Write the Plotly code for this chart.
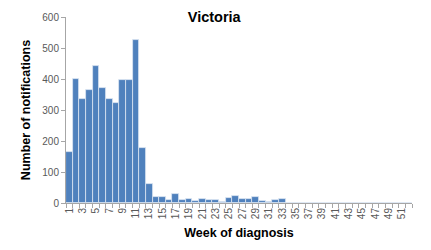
import plotly.graph_objects as go

weeks = list(range(1, 53))
notifications = [164, 400, 335, 363, 443, 372, 335, 323, 398, 398, 527, 177,
                 60, 20, 18, 10, 28, 10, 12, 8, 14, 11, 10, 2,
                 16, 24, 13, 13, 20, 8, 4, 9, 12, 1] + [0] * 18
tick_weeks = list(range(1, 53, 2))
tick_labels = [str(w) for w in tick_weeks]

fig = go.Figure(go.Bar(
    x=weeks, y=notifications,
    marker=dict(color="#4F81BD", line=dict(color="#DCE6F2", width=0.8)),
    width=1.0,
))

axis_font = dict(family="Liberation Sans, Arial, sans-serif", size=10, color="#595959")
fig.update_layout(
    width=431, height=250,
    margin=dict(l=66, r=19, t=17, b=47),
    paper_bgcolor="white", plot_bgcolor="white",
    showlegend=False,
    title=dict(text="<b>Victoria</b>", x=0.497, xanchor="center", y=0.932, yanchor="middle",
               font=dict(family="Liberation Sans, Arial, sans-serif", size=14.5, color="black")),
    bargap=0,
)
fig.update_xaxes(
    range=[0.5, 52.5], tickmode="array", tickvals=tick_weeks, ticktext=tick_labels,
    tickangle=-90, ticks="", tickfont=axis_font,
    showline=True, linecolor="#A6A6A6", linewidth=1, showgrid=False, zeroline=False,
    minor=dict(tickmode="linear", tick0=0.5, dtick=1, ticks="outside", ticklen=4,
               tickcolor="#A6A6A6", showgrid=False),
    title=dict(text="<b>Week of diagnosis</b>", standoff=10,
               font=dict(family="Liberation Sans, Arial, sans-serif", size=12.5, color="black")),
)
fig.update_yaxes(
    range=[0, 600], tickvals=[0, 100, 200, 300, 400, 500, 600],
    ticks="outside", ticklen=4, tickcolor="#A6A6A6", tickfont=axis_font,
    showline=True, linecolor="#A6A6A6", linewidth=1, showgrid=False, zeroline=False,
    title=dict(text="<b>Number of notifications</b>", standoff=8,
               font=dict(family="Liberation Sans, Arial, sans-serif", size=12.5, color="black")),
)

fig.write_html("out.html")
